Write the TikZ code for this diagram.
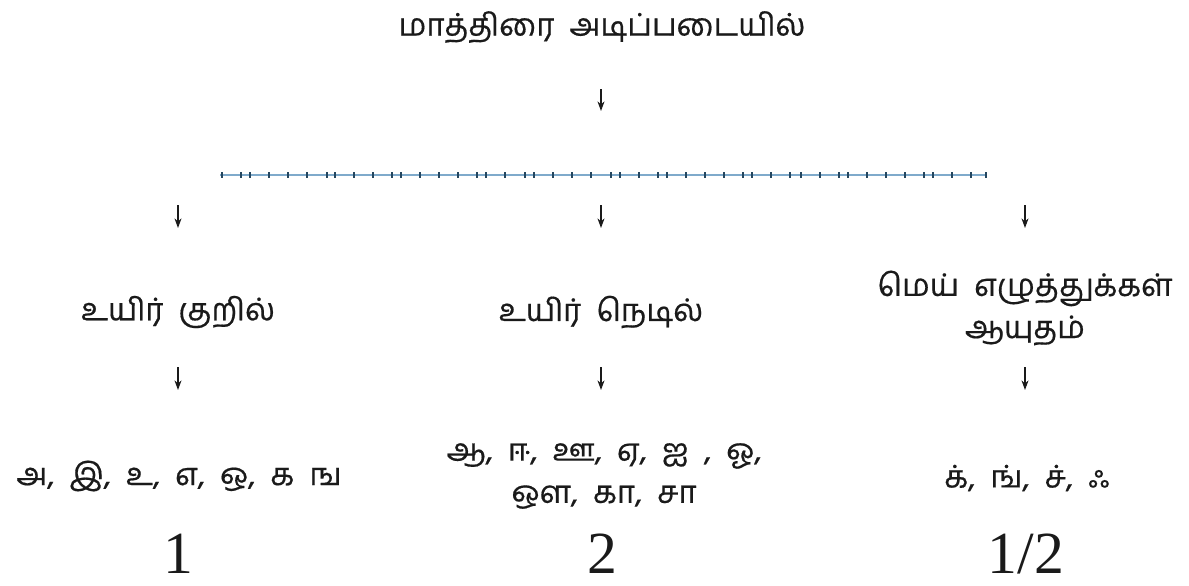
\documentclass[tikz,border=0pt]{standalone}
\usepackage{fontspec}
\usepackage{tikz}
\usetikzlibrary{arrows.meta, positioning}
\setmainfont{Liberation Serif}
\newfontfamily\tamil[Script=Tamil, FakeBold=0.5]{Hind Madurai}
\definecolor{ink}{HTML}{1A1A1A}
\definecolor{rulecol}{HTML}{7FAACB}
\definecolor{tickcol}{HTML}{24465F}

\begin{document}
\begin{tikzpicture}[x=0.02cm, y=-0.02cm, >={Stealth[length=5.5pt, width=4pt]}]
        \tikzstyle{label} = [text=ink, font=\tamil\fontsize{17.7}{24}\selectfont, align=center, inner sep=0pt]
        \tikzstyle{value} = [text=ink, font=\fontsize{34}{38}\selectfont, inner sep=0pt, text depth=0pt, anchor=base]
        \tikzstyle{pointer} = [draw=ink, line width=0.6pt]

        \useasboundingbox (0,0) rectangle (1189,585);

        % top
        \node [label] (title) at (602,27) {மாத்திரை\ \ அடிப்படையில்};
        \coordinate (t1) at (601,89);
        \coordinate (t2) at (601,111);
        \path [pointer, ->] (t1) -- (t2);

        % dividing rule
        \coordinate (left) at (220,175);
        \coordinate (right) at (987,175);
        \path [draw, rulecol, line width=1.5pt] (left) -- (right);
        \foreach \x in {222,241,250,269,288,307,327,335,354,373,392,401,420,439,458,477,486,505,525,534,553,572,591,611,620,639,658,667,686,705,724,743,752,771,790,801,820,839,848,867,886,905,924,933,952,971,986}
            \path [draw, tickcol, line width=0.9pt] (\x,172) -- (\x,177.5);

        % three branches
        \foreach \x/\n in {178/a, 601/b, 1025/c} {
            \coordinate (\n1) at (\x,205);
            \coordinate (\n2) at (\x,228);
            \path [pointer, ->] (\n1) -- (\n2);
            \coordinate (\n3) at (\x,367);
            \coordinate (\n4) at (\x,390);
            \path [pointer, ->] (\n3) -- (\n4);
        }

        \node [label] (kuril) at (178,312) {உயிர்\ \ குறில்};
        \node [label] (nedil) at (601,312) {உயிர்\ \ நெடில்};
        \node [label] (mei) at (1025,308) {மெய்\ \ எழுத்துக்கள்\\ஆயுதம்};

        \node [label] (kurilset) at (179,476) {அ,\ \ இ,\ \ உ,\ \ எ,\ \ ஒ,\ \ க\ \ ங};
        \node [label] (nedilset) at (604,476) {ஆ,\ \ ஈ,\ \ ஊ,\ \ ஏ,\ \ ஐ\ \ ,\ \ ஓ,\\ஔ,\ \ கா,\ \ சா};
        \node [label] (meiset) at (1027,478) {க்,\ \ ங்,\ \ ச்,\ \ ஃ};

        \node [value] (one) at (178,573) {1};
        \node [value] (two) at (602,573) {2};
        \node [value] (half) at (1026,573) {1/2};
    \end{tikzpicture}
\end{document}
